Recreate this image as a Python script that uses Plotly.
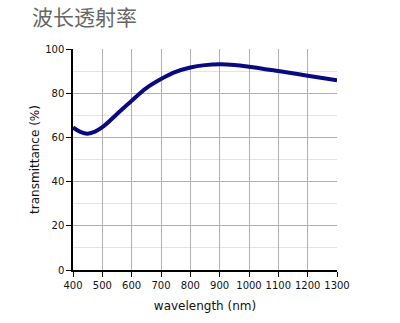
import plotly.graph_objects as go

# Transmittance spectrum (wavelength in nm, transmittance in %)
wavelength = [400, 425, 450, 475, 500, 550, 600, 650, 700, 750, 800, 850, 900, 950, 1000, 1100, 1200, 1300]
transmittance = [64.5, 62.5, 61.7, 62.6, 64.6, 70.6, 76.6, 82.3, 86.4, 89.6, 91.6, 92.7, 93.1, 92.8, 92.0, 90.0, 87.9, 85.8]

x_ticks = [400, 500, 600, 700, 800, 900, 1000, 1100, 1200, 1300]
y_ticks = [0, 20, 40, 60, 80, 100]

fig = go.Figure()
fig.add_trace(go.Scatter(
    x=wavelength, y=transmittance,
    mode="lines",
    line=dict(color="#0a0a80", width=4, shape="spline", smoothing=1.0),
    showlegend=False,
    hoverinfo="x+y",
))

tick_font = dict(family="DejaVu Sans", size=10, color="#111111")
title_font = dict(family="DejaVu Sans", size=12, color="#111111")

fig.update_layout(
    width=400, height=323,
    margin=dict(l=73, r=63, t=49, b=53),
    paper_bgcolor="white",
    plot_bgcolor="white",
    title=dict(
        text="波长透射率",
        x=32 / 400, xanchor="left", xref="container",
        y=1 - 18 / 323, yanchor="middle", yref="container",
        font=dict(family="Noto Sans CJK SC", size=21, color="#666666"),
    ),
    xaxis=dict(
        range=[400, 1300],
        tickvals=x_ticks,
        ticktext=[str(v) for v in x_ticks],
        ticks="outside", ticklen=5, tickcolor="#000000", tickwidth=1,
        showline=True, linecolor="#000000", linewidth=1.5,
        showgrid=True, gridcolor="#b0b0b0", gridwidth=1,
        zeroline=False,
        tickfont=tick_font,
        title=dict(text="wavelength (nm)", font=title_font, standoff=12),
    ),
    yaxis=dict(
        range=[0, 100],
        tickvals=y_ticks,
        ticks="outside", ticklen=5, tickcolor="#000000", tickwidth=1,
        showline=True, linecolor="#000000", linewidth=1.5,
        showgrid=True, gridcolor="#b0b0b0", gridwidth=1,
        zeroline=False,
        tickfont=tick_font,
        minor=dict(dtick=10, showgrid=True, gridcolor="#e4e4e4", gridwidth=1, ticks=""),
        title=dict(text="transmittance (%)", font=title_font, standoff=3),
    ),
)

fig.write_html("out.html")
